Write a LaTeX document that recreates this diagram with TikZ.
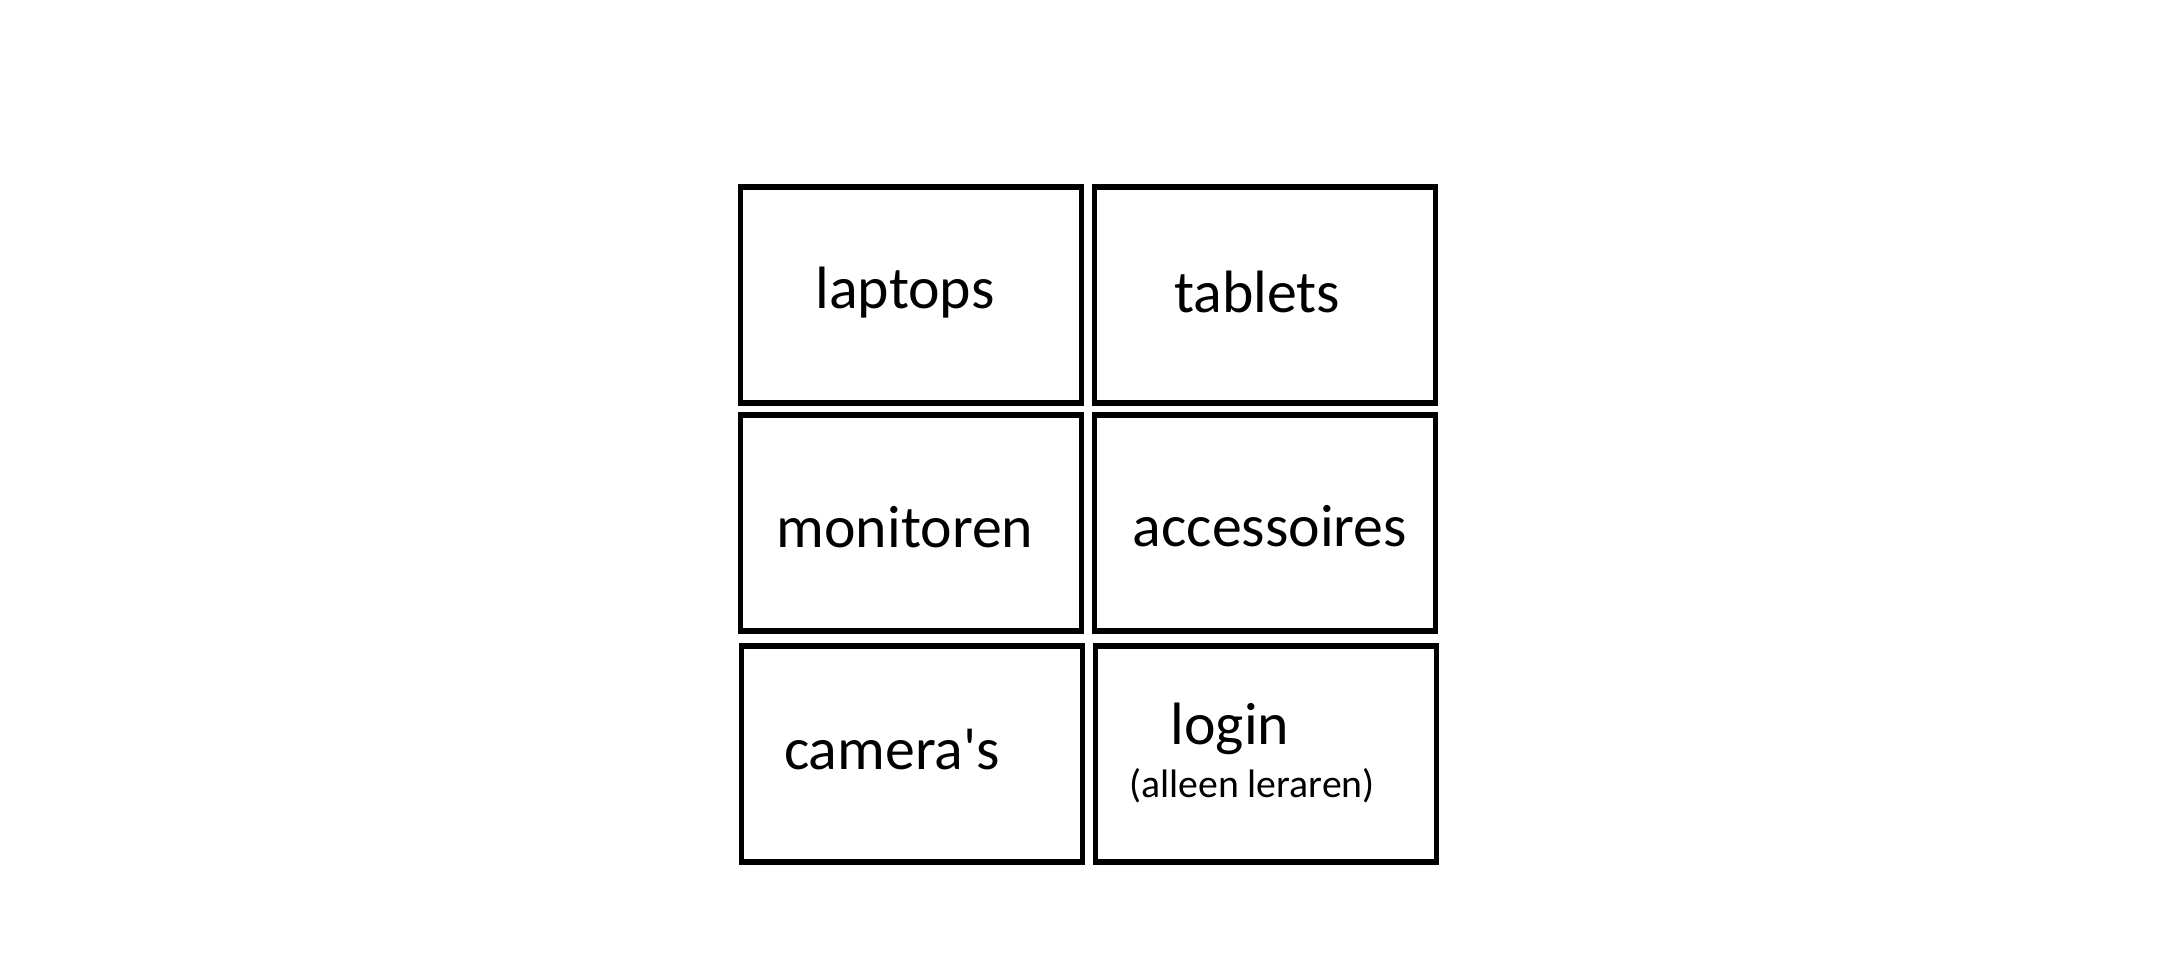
\documentclass[tikz,border=0pt]{standalone}
\usepackage{fontspec}
\setmainfont{Carlito}
\usetikzlibrary{math}

\begin{document}
\begin{tikzpicture}[x=0.01cm,y=-0.01cm]

\tikzmath{
	\W = 3.41cm;
	\H = 2.16cm;
}

\tikzset{menu box/.style={
    draw,
    line width=1.5pt,
    minimum width=\W,
    minimum height=\H,
    inner sep=0pt
  },
  menu text/.style={
    inner sep=0pt,
    font=\fontsize{17}{20}\selectfont
  },
  menu note/.style={
    inner sep=0pt,
    font=\fontsize{11.3}{13}\selectfont
  }
}

\useasboundingbox (0,0) rectangle (2158,954);

% boxes
\node[menu box] (laptopsbox) at (911,295) {};
\node[menu box] (tabletsbox) at (1265,295) {};
\node[menu box] (monitorenbox) at (911,523) {};
\node[menu box] (accessoiresbox) at (1265,523) {};
\node[menu box] (camerasbox) at (912,754) {};
\node[menu box] (loginbox) at (1266,754) {};

% labels
\node[menu text] (laptops) at (905,293) {laptops};
\node[menu text] (tablets) at (1257,292) {tablets};
\node[menu text] (monitoren) at (905,527) {monitoren};
\node[menu text] (accessoires) at (1270,526) {accessoires};
\node[menu text] (cameras) at (892,750) {camera\textquotesingle s};
\node[menu text] (login) at (1230,729) {login};
\node[menu note] (leraren) at (1252,786) {(alleen leraren)};

\end{tikzpicture}
\end{document}
